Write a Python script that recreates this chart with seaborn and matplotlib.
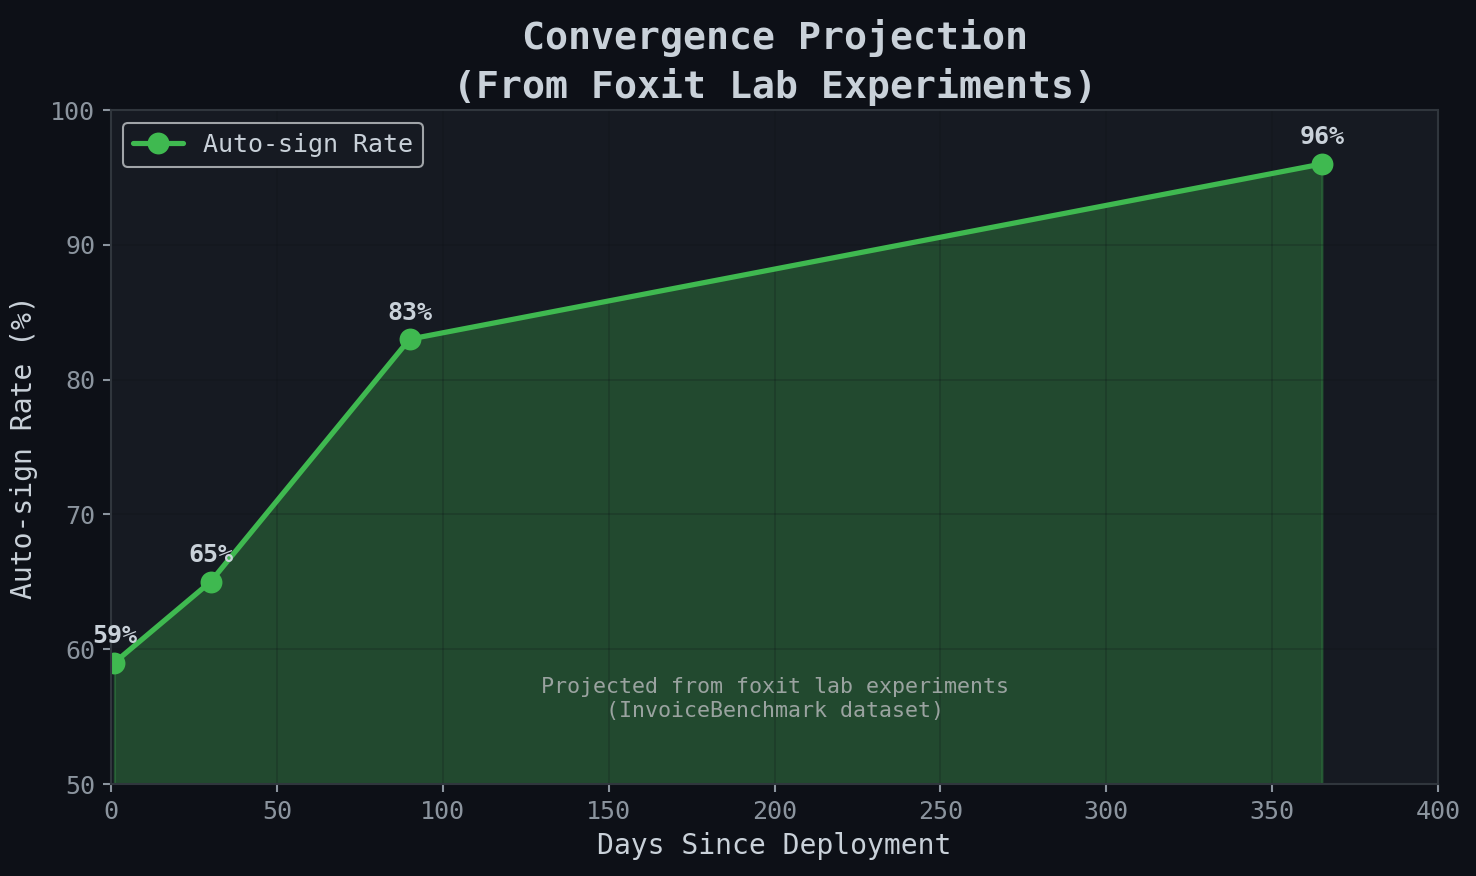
import matplotlib
matplotlib.use("Agg")
import matplotlib.pyplot as plt
import seaborn as sns
import pandas as pd

days = [1, 30, 90, 365]
rates = [59, 65, 83, 96]
labels = ["59%", "65%", "83%", "96%"]
series_name = "Auto-sign Rate"

FIG_BG = "#0d1017"
AX_BG = "#161a22"
GREEN = "#3fb950"
TEXT = "#c9d1d9"
TICK = "#8b949e"

sns.set_theme(style="dark")
plt.rcParams["font.family"] = ["DejaVu Sans Mono", "DejaVu Sans"]

df = pd.DataFrame({"day": days, "rate": rates, "series": series_name})

fig = plt.figure(figsize=(9.84, 5.84), dpi=150, facecolor=FIG_BG)
ax = fig.add_axes([0.0752, 0.105, 0.8991, 0.7694])
ax.set_facecolor(AX_BG)

ax.fill_between(df["day"], df["rate"], 50, color=GREEN, alpha=0.3, linewidth=1.0, zorder=0.3)
sns.lineplot(data=df, x="day", y="rate", hue="series", palette=[GREEN], marker="o",
             markersize=10.5, linewidth=2.5, markeredgewidth=0, ax=ax)

for d, r, t in zip(days, rates, labels):
    ax.annotate(t, (d, r), xytext=(0, 7), textcoords="offset points", ha="center",
                va="bottom", fontsize=12, fontweight="bold", color=TEXT)

ax.text(200, 56.3, "Projected from foxit lab experiments\n(InvoiceBenchmark dataset)",
        ha="center", va="center", fontsize=10.4, color="#9aa3a0", linespacing=1.2)

ax.set_xlim(0, 400)
ax.set_ylim(50, 100)
ax.set_xticks([0, 50, 100, 150, 200, 250, 300, 350, 400])
ax.set_yticks([50, 60, 70, 80, 90, 100])
ax.set_axisbelow(True)
ax.grid(True, color="#0d1017", alpha=0.2, linewidth=0.9)
ax.tick_params(axis="both", colors=TICK, labelsize=12, length=4, width=1, bottom=True, left=True)
for s in ax.spines.values():
    s.set_color("#30363d")
    s.set_linewidth(1)

ax.set_xlabel("Days Since Deployment", fontsize=13.5, color=TEXT, labelpad=4)
ax.set_ylabel("Auto-sign Rate (%)", fontsize=13.5, color=TEXT, labelpad=6)
ax.set_title("Convergence Projection\n(From Foxit Lab Experiments)", fontsize=18.3,
             fontweight="bold", color=TEXT, pad=6, linespacing=1.35)

leg = ax.legend(loc="upper left", fontsize=12, facecolor=AX_BG, edgecolor="#a0a4a8",
                framealpha=1.0, markerscale=1.0)
leg.get_frame().set_linewidth(1.0)
for txt in leg.get_texts():
    txt.set_color(TEXT)

fig.savefig("out.png", dpi=150, facecolor=FIG_BG)
